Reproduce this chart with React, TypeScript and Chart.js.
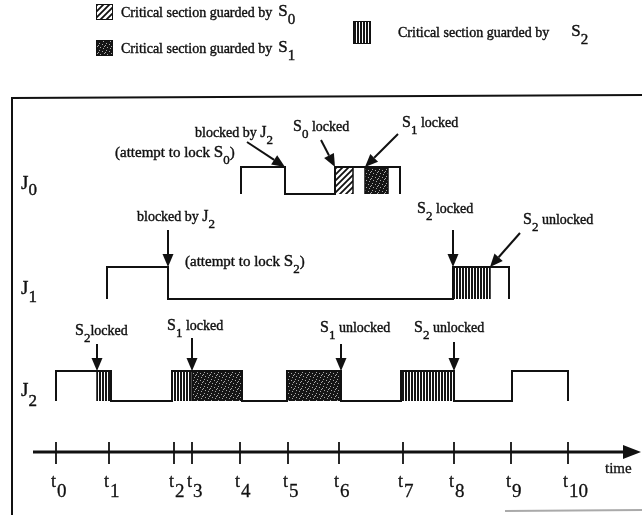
import React, { useEffect, useRef } from "react";
import { Chart, registerables } from "chart.js";
Chart.register(...registerables);

const FONT = "'Liberation Serif', 'Times New Roman', serif";

// ---- time axis ----
const tickLabels = ["0", "1", "2", "3", "4", "5", "6", "7", "8", "9", "10"];
const tickTimes = [0, 5.3, 11.8, 13.6, 18.4, 23.2, 28.3, 34.7, 39.8, 45.5, 51.2];

// ---- jobs (waveforms: transition times and levels 0 = idle, 1 = running) ----
const jobLabels = ["0", "1", "2"];
const j0Times = [18.5, 18.5, 22.9, 22.9, 27.9, 27.9, 34.4, 34.4];
const j0Levels = [0, 1, 1, 0, 0, 1, 1, 0];
const j1Times = [5.1, 5.1, 11.2, 11.2, 39.7, 39.7, 45.3, 45.3];
const j1Levels = [0, 1, 1, 0, 0, 1, 1, 0];
const j2Times = [0, 0, 5.5, 5.5, 11.6, 11.6, 18.6, 18.6, 23.1, 23.1, 28.5, 28.5, 34.5, 34.5, 39.8, 39.8, 45.6, 45.6, 51.2, 51.2];
const j2Levels = [0, 1, 1, 0, 0, 1, 1, 0, 0, 1, 1, 0, 0, 1, 1, 0, 0, 1, 1, 0];

// ---- critical sections ----
const semLabels = ["0", "1", "2"];
const legendText = "Critical section guarded by";
const csJob = [0, 0, 1, 2, 2, 2, 2, 2];
const csSem = [0, 1, 2, 2, 2, 1, 1, 2];
const csStart = [27.9, 30.9, 39.7, 4.1, 11.6, 13.6, 23.1, 34.5];
const csEnd = [29.7, 33.2, 43.4, 5.5, 13.6, 18.6, 28.5, 39.8];

// ---- annotations ----
const noteJob = [0, 0, 0, 1, 1, 1, 2, 2, 2, 2];
const noteTime = [22.9, 27.9, 30.9, 11.2, 39.7, 43.4, 4.1, 13.6, 28.5, 39.8];
const noteText = [
  "blocked by J_2",
  "S_0 locked",
  "S_1 locked",
  "blocked by J_2",
  "S_2 locked",
  "S_2 unlocked",
  "S_2locked",
  "S_1 locked",
  "S_1 unlocked",
  "S_2 unlocked",
];
const noteText2 = ["(attempt to lock S_0)", "", "", "(attempt to lock S_2)", "", "", "", "", "", ""];

// ---- layout (styles) ----
const rowBase = [321, 216, 114];
const rowAmp = [27, 32, 30];
const axisLevel = 63;
const noteTail = [[-38, -25], [-14, -27], [33, -33], [0, -37], [0, -37], [30, -34], [0, -27], [0, -33], [0, -27], [0, -29]];
const noteTextPos = [[-90, -30], [-42, -36], [37, -40], [-31, -46], [-36, -54], [33, -43], [-22, -36], [-25, -41], [-21, -39], [-40, -39]];
const noteText2Pos = [[-170, -10], [0, 0], [0, 0], [17, -1], [0, 0], [0, 0], [0, 0], [0, 0], [0, 0], [0, 0]];

function makeHatch(): CanvasPattern {
  const c = document.createElement("canvas");
  c.width = 6; c.height = 6;
  const g = c.getContext("2d")!;
  g.fillStyle = "#fff"; g.fillRect(0, 0, 6, 6);
  g.strokeStyle = "#111"; g.lineWidth = 1.8;
  g.beginPath();
  g.moveTo(-1, 7); g.lineTo(7, -1);
  g.moveTo(-4, 4); g.lineTo(4, -4);
  g.moveTo(2, 10); g.lineTo(10, 2);
  g.stroke();
  return g.createPattern(c, "repeat")!;
}
function makeStipple(): CanvasPattern {
  const c = document.createElement("canvas");
  c.width = 7; c.height = 7;
  const g = c.getContext("2d")!;
  g.fillStyle = "#151515"; g.fillRect(0, 0, 7, 7);
  g.fillStyle = "#aaa";
  [[1, 1], [4, 2], [2, 5], [6, 4], [5, 6], [0, 3]].forEach(([x, y]) => g.fillRect(x, y, 1, 1));
  return g.createPattern(c, "repeat")!;
}
function makeStripes(): CanvasPattern {
  const c = document.createElement("canvas");
  c.width = 3; c.height = 4;
  const g = c.getContext("2d")!;
  g.fillStyle = "#fff"; g.fillRect(0, 0, 3, 4);
  g.fillStyle = "#151515"; g.fillRect(0, 0, 2, 4);
  return g.createPattern(c, "repeat")!;
}

function txt(ctx: CanvasRenderingContext2D, s: string, x: number, y: number) {
  ctx.fillText(s, x, y);
  ctx.strokeText(s, x, y);
}

function rich(ctx: CanvasRenderingContext2D, s: string, x: number, y: number, size: number, subSize: number, subDy: number) {
  const parts = s.split(/(_.)/).filter((p) => p.length);
  let cx = x;
  ctx.lineWidth = 0.4;
  for (const p of parts) {
    if (p[0] === "_") {
      ctx.font = `${subSize}px ${FONT}`;
      txt(ctx, p[1], cx, y + subDy);
      cx += ctx.measureText(p[1]).width;
    } else {
      const sub = p.split(/([SJ])/).filter((q) => q.length);
      for (const q of sub) {
        const big = q === "S" || q === "J";
        ctx.font = `${big ? size + 2 : size}px ${FONT}`;
        txt(ctx, q, cx, y);
        cx += ctx.measureText(q).width;
      }
    }
  }
  return cx;
}

function arrow(ctx: CanvasRenderingContext2D, x1: number, y1: number, x2: number, y2: number, head = 13, hw = 5.5) {
  const dx = x2 - x1, dy = y2 - y1;
  const len = Math.hypot(dx, dy);
  const ux = dx / len, uy = dy / len;
  const bx = x2 - ux * head, by = y2 - uy * head;
  ctx.beginPath();
  ctx.moveTo(x1, y1);
  ctx.lineTo(bx, by);
  ctx.lineWidth = 2;
  ctx.stroke();
  ctx.beginPath();
  ctx.moveTo(x2, y2);
  ctx.lineTo(bx - uy * hw, by + ux * hw);
  ctx.lineTo(bx + uy * hw, by - ux * hw);
  ctx.closePath();
  ctx.fill();
}

function makePlugin(patterns: CanvasPattern[]) {
  return {
    id: "diagram",
    afterDatasetsDraw(chart: any) {
      const ctx: CanvasRenderingContext2D = chart.ctx;
      const xs = chart.scales.x;
      const ys = chart.scales.y;
      ctx.save();
      ctx.fillStyle = "#111";
      ctx.strokeStyle = "#111";
      ctx.textBaseline = "alphabetic";
      ctx.textAlign = "left";

      // frame
      ctx.lineWidth = 2;
      ctx.beginPath();
      ctx.moveTo(12, 515);
      ctx.lineTo(12, 98);
      ctx.lineTo(642, 95);
      ctx.stroke();
      ctx.strokeStyle = "#aaa";
      ctx.beginPath();
      ctx.moveTo(505, 511);
      ctx.lineTo(642, 510);
      ctx.stroke();
      ctx.strokeStyle = "#111";

      // legend
      const lg = [
        [96, 4, 17, 16, 121, 17, 6],
        [96, 40, 17, 16, 121, 53, 6],
        [353, 21, 18, 23, 398, 37, 22],
      ];
      lg.forEach(([bx, by, bw, bh, tx, ty, gap], i) => {
        ctx.fillStyle = patterns[i];
        ctx.fillRect(bx, by, bw, bh);
        ctx.fillStyle = "#111";
        ctx.lineWidth = 1;
        ctx.strokeRect(bx + 0.5, by + 0.5, bw - 1, bh - 1);
        ctx.font = `14px ${FONT}`;
        ctx.lineWidth = 0.4;
        txt(ctx, legendText, tx, ty);
        const w = ctx.measureText(legendText).width;
        rich(ctx, "S_" + semLabels[i], tx + w + gap, ty - 1, 15, 15, 8);
      });

      // job labels
      jobLabels.forEach((lab, j) => {
        const yb = ys.getPixelForValue(rowBase[j]);
        rich(ctx, "J_" + lab, 21, yb - 5, 17, 17, 6 + j * 2);
      });

      // annotations
      noteTime.forEach((t, i) => {
        const j = noteJob[i];
        const px = xs.getPixelForValue(t);
        const py = ys.getPixelForValue(rowBase[j] + rowAmp[j]);
        const [dx, dy] = noteTail[i];
        arrow(ctx, px + dx, py + dy, px, py);
        const [tx, ty] = noteTextPos[i];
        rich(ctx, noteText[i], px + tx, py + ty, 14, 13, 7);
        if (noteText2[i]) {
          const [t2x, t2y] = noteText2Pos[i];
          rich(ctx, noteText2[i], px + t2x, py + t2y, 15, 13, 7);
        }
      });

      // time axis
      const ay = ys.getPixelForValue(axisLevel);
      ctx.lineWidth = 3;
      ctx.beginPath();
      ctx.moveTo(33, ay);
      ctx.lineTo(626, ay);
      ctx.stroke();
      ctx.beginPath();
      ctx.moveTo(641, ay);
      ctx.lineTo(623, ay - 7);
      ctx.lineTo(623, ay + 7);
      ctx.closePath();
      ctx.fill();
      tickTimes.forEach((t, i) => {
        const px = xs.getPixelForValue(t);
        ctx.lineWidth = 1.8;
        ctx.beginPath();
        ctx.moveTo(px, ay - 10);
        ctx.lineTo(px, ay + 12);
        ctx.stroke();
        ctx.lineWidth = 0.3;
        ctx.font = `18px ${FONT}`;
        txt(ctx, "t", px - 5, ay + 35);
        const tw = ctx.measureText("t").width;
        ctx.font = `19px ${FONT}`;
        txt(ctx, tickLabels[i], px - 5 + tw + 1, ay + 45);
      });
      ctx.font = `15px ${FONT}`;
      ctx.lineWidth = 0.3;
      txt(ctx, "time", 605, ay + 21);
      ctx.restore();
    },
  };
}

export default function App() {
  const ref = useRef<HTMLCanvasElement>(null);
  useEffect(() => {
    const canvas = ref.current!;
    const patterns = [makeHatch(), makeStipple(), makeStripes()];
    const datasets: any[] = [];
    csStart.forEach((s, i) => {
      const j = csJob[i];
      const b = rowBase[j];
      const h = b + rowAmp[j];
      datasets.push({
        data: [
          { x: s, y: b },
          { x: s, y: h },
          { x: csEnd[i], y: h },
          { x: csEnd[i], y: b },
        ],
        borderColor: "#111",
        borderWidth: 1.5,
        backgroundColor: patterns[csSem[i]],
        fill: { value: b },
        pointRadius: 0,
        order: 2,
      });
    });
    const waves: [number[], number[]][] = [
      [j0Times, j0Levels],
      [j1Times, j1Levels],
      [j2Times, j2Levels],
    ];
    waves.forEach(([ts, ls], j) => {
      datasets.push({
        data: ts.map((x, k) => ({ x, y: rowBase[j] + ls[k] * rowAmp[j] })),
        borderColor: "#111",
        borderWidth: 2,
        fill: false,
        pointRadius: 0,
        order: 1,
      });
    });
    const chart = new Chart(canvas, {
      type: "line",
      data: { datasets },
      options: {
        animation: false,
        responsive: false,
        devicePixelRatio: 1,
        events: [],
        layout: { padding: 0 },
        plugins: { legend: { display: false }, tooltip: { enabled: false } },
        elements: { line: { tension: 0, borderJoinStyle: "miter" } },
        scales: {
          x: { type: "linear", min: -5.6, max: 58.6, display: false },
          y: { type: "linear", min: 0, max: 515, display: false },
        },
      },
      plugins: [makePlugin(patterns)],
    } as any);
    let alive = true;
    const redraw = () => {
      if (alive) chart.draw();
    };
    const fonts = (document as any).fonts;
    if (fonts && fonts.load) {
      Promise.all([
        fonts.load(`14px "Liberation Serif"`),
        fonts.load(`18px "Liberation Serif"`),
      ])
        .then(redraw)
        .catch(() => {});
      if (fonts.ready) fonts.ready.then(redraw);
    }
    const timer = setTimeout(redraw, 150);
    return () => {
      alive = false;
      clearTimeout(timer);
      chart.destroy();
    };
  }, []);
  return (
    <div style={{ position: "absolute", left: 0, top: 0, width: 642, height: 515, background: "#fff" }}>
      <canvas ref={ref} width={642} height={515} style={{ display: "block" }} />
    </div>
  );
}
